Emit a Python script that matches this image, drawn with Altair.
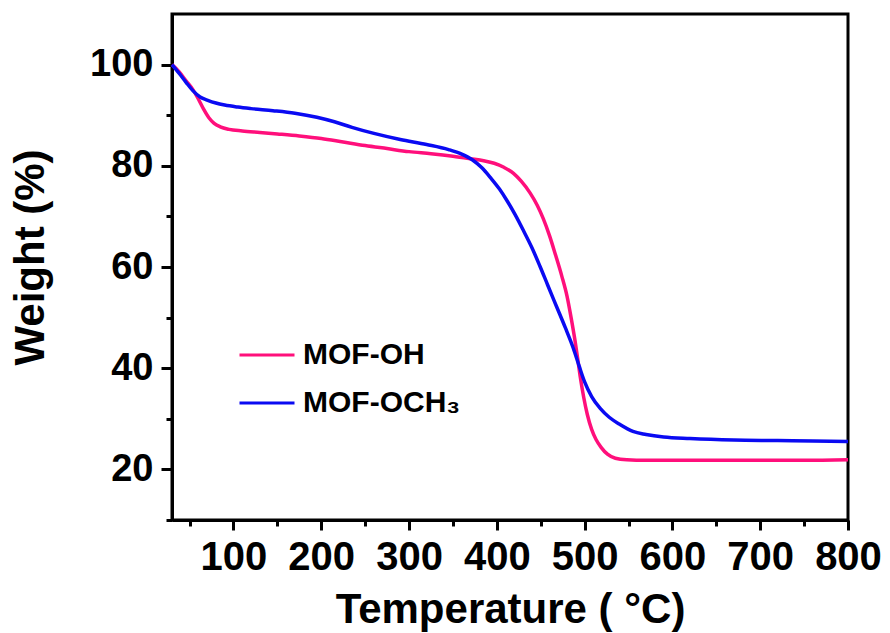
import altair as alt
import pandas as pd

# TGA curves: temperature (°C) and residual weight (%)
temp_oh = [30, 38, 46, 54, 60, 66, 72, 78, 85, 95, 110, 130, 150, 175, 200, 225, 250,
           275, 300, 325, 350, 370, 385, 397, 408, 419, 428, 438, 446, 453, 460, 467,
           474, 480, 485, 489, 492, 495, 499, 503, 508, 513, 519, 526, 535, 548, 570,
           600, 650, 700, 750, 800]
weight_oh = [100.0, 98.6, 96.8, 95.0, 93.2, 91.2, 89.5, 88.4, 87.7, 87.2, 86.9, 86.6,
             86.3, 85.9, 85.4, 84.7, 84.0, 83.4, 82.8, 82.4, 81.9, 81.4, 81.0, 80.5,
             79.7, 78.5, 76.9, 74.6, 72.2, 69.5, 66.2, 62.3, 58.2, 54.2, 49.6, 45.5,
             42.0, 38.3, 34.2, 30.9, 27.9, 25.9, 24.3, 23.0, 22.2, 21.9, 21.8, 21.8,
             21.8, 21.8, 21.8, 21.9]

temp_och3 = [30, 38, 46, 54, 62, 70, 80, 90, 105, 120, 145, 170, 195, 215, 235, 260,
             290, 320, 345, 360, 372, 383, 393, 403, 412, 421, 430, 440, 449, 458, 468,
             478, 487, 494, 500, 508, 518, 528, 540, 555, 570, 590, 620, 670, 720, 760,
             800]
weight_och3 = [100.0, 98.3, 96.5, 94.8, 93.6, 93.0, 92.4, 92.0, 91.6, 91.3, 90.9, 90.4,
               89.6, 88.7, 87.6, 86.4, 85.2, 84.2, 83.2, 82.3, 81.2, 79.6, 77.6, 75.4,
               73.0, 70.3, 67.3, 63.8, 60.2, 56.4, 52.2, 48.0, 44.0, 40.3, 37.3, 34.4,
               32.0, 30.3, 28.9, 27.5, 26.9, 26.4, 26.1, 25.8, 25.7, 25.6, 25.5]

series_names = ["MOF-OH", "MOF-OCH\u2083"]
series_colors = ["#FF0F7B", "#0A0AF2"]

x_ticks = list(range(50, 801, 50))
y_ticks = list(range(10, 101, 10))

df = pd.concat([
    pd.DataFrame({"temp": temp_oh, "weight": weight_oh, "sample": series_names[0], "order": 0}),
    pd.DataFrame({"temp": temp_och3, "weight": weight_och3, "sample": series_names[1], "order": 1}),
])

FONT = "Liberation Sans"

x_axis = alt.Axis(
    title="Temperature ( \u00b0C)",
    values=x_ticks,
    labelExpr="datum.value % 100 === 0 ? datum.label : ''",
    labelOverlap=False,
    labelFlush=False,
    tickSize={"condition": {"test": "datum.value % 100 === 0", "value": 10}, "value": 6},
    grid=False,
    labelFontSize=40,
    labelPadding=7,
    titleFontSize=42,
    titlePadding=12,
)

y_axis = alt.Axis(
    title="Weight (%)",
    values=y_ticks,
    labelExpr="datum.value % 20 === 0 ? datum.label : ''",
    labelOverlap=False,
    labelFlush=False,
    tickSize={"condition": {"test": "datum.value % 20 === 0", "value": 11}, "value": 6},
    grid=False,
    labelFontSize=38,
    labelPadding=8,
    titleFontSize=42,
    titlePadding=37,
    titleY=243,
)

chart = alt.Chart(df).mark_line(strokeWidth=3.5, interpolate="monotone").encode(
    x=alt.X("temp:Q", scale=alt.Scale(domain=[30, 800], nice=False, zero=False), axis=x_axis),
    y=alt.Y("weight:Q", scale=alt.Scale(domain=[10, 110], nice=False, zero=False), axis=y_axis),
    color=alt.Color(
        "sample:N",
        scale=alt.Scale(domain=series_names, range=series_colors),
        legend=alt.Legend(
            title=None,
            orient="none",
            legendX=66,
            legendY=312,
            symbolType="stroke",
            symbolSize=3025,
            symbolStrokeWidth=3,
            labelFontSize=30,
            labelFont=FONT,
            labelFontWeight="bold",
            labelColor="black",
            labelOffset=7,
            rowPadding=4,
            padding=0,
        ),
    ),
    order="order:Q",
    detail="sample:N",
).properties(
    width=676,
    height=506,
    autosize=alt.AutoSizeParams(type="none"),
    padding={"left": 172, "top": 14, "right": 42, "bottom": 113},
    background="white",
).configure_view(
    stroke="black",
    strokeWidth=3,
).configure_axis(
    domainColor="black",
    domainWidth=3,
    tickColor="black",
    tickWidth=3,
    labelFont=FONT,
    labelFontWeight="bold",
    labelColor="black",
    titleFont=FONT,
    titleFontWeight="bold",
    titleColor="black",
)

chart.save("out.html", embed_options={"renderer": "svg", "actions": False})
